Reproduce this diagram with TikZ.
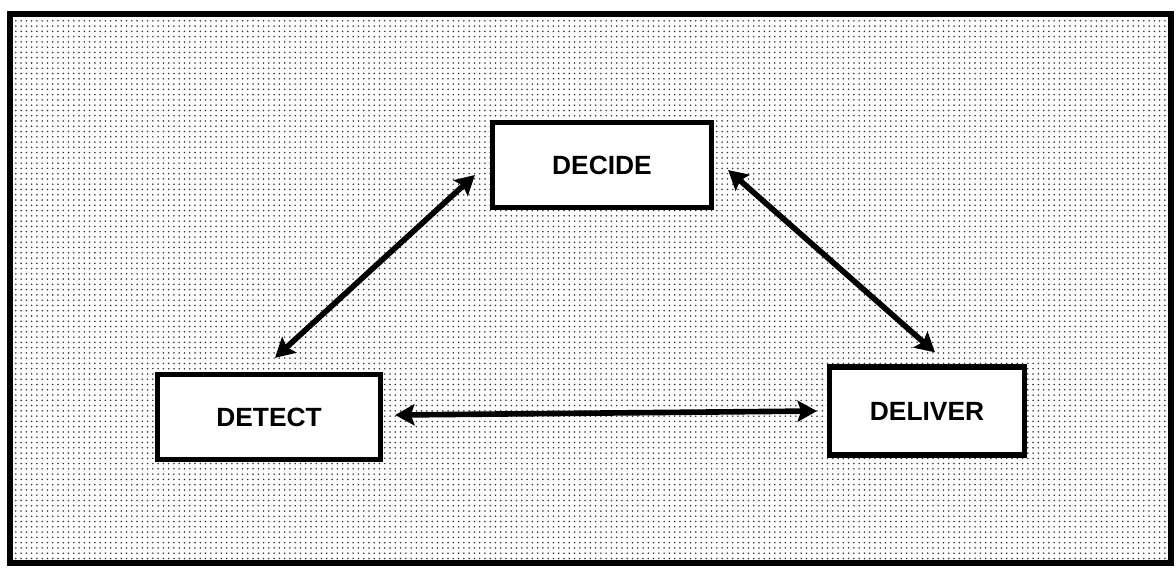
\documentclass[tikz,border=0pt]{standalone}
\usepackage{fontspec}
\setmainfont{Liberation Sans}
\usetikzlibrary{arrows.meta}
\usetikzlibrary{patterns}

\begin{document}
\begin{tikzpicture}[x = 0.02cm, y = -0.02cm,
            stage/.style = {draw = black, line width = 3pt, fill = white, inner sep = 0pt,
                            font = \fontsize{15}{17}\selectfont\bfseries},
            link/.style = {black, line width = 3.2pt,
                           {Stealth[length=11pt,width=12pt,inset=2pt]}-{Stealth[length=11pt,width=12pt,inset=2pt]}}]
            \useasboundingbox (0,0) rectangle (1176,569);
            % dotted background and frame
            \fill[pattern = dots, pattern color = black!80] (10,14) rectangle (1171,563);
            \draw[black, line width = 3.6pt] (10,14) rectangle (1171,563);

            % the three stages
            \node[stage, minimum width = 4.38cm, minimum height = 1.70cm] (decide) at (602,165) {DECIDE};
            \node[stage, minimum width = 4.46cm, minimum height = 1.70cm] (detect) at (269,417) {DETECT};
            \node[stage, minimum width = 3.90cm, minimum height = 1.76cm] (deliver) at (927,411) {DELIVER};

            % two-way links
            \draw[link] ([shift={(-15,10)}]decide.west) -- ([shift={(6,-14)}]detect.north);
            \draw[link] ([shift={(14,5)}]decide.east) -- ([shift={(8,-12)}]deliver.north);
            \draw[link] ([shift={(12,-2)}]detect.east) -- ([shift={(-10,0)}]deliver.west);
        \end{tikzpicture}
\end{document}
